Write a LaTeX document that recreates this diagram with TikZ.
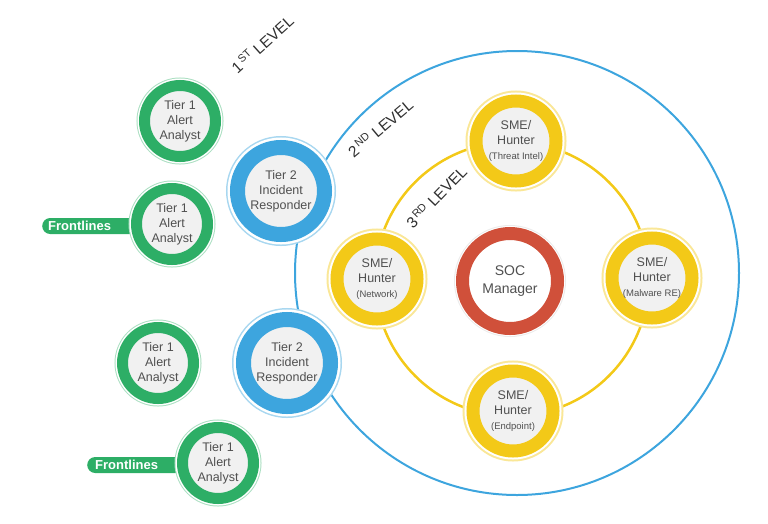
\documentclass[tikz,border=0pt]{standalone}
\usepackage{fontspec}
\setmainfont{Liberation Sans}
\definecolor{cgreen}{HTML}{2DAE66}
\definecolor{cblue}{HTML}{3DA5DE}
\definecolor{cyellow}{HTML}{F3C918}
\definecolor{cred}{HTML}{D0503A}
\definecolor{cfill}{HTML}{F1F1F1}
\definecolor{ctext}{HTML}{505050}
\definecolor{clabel}{HTML}{303030}
\tikzset{
  base/.style={circle, inner sep=0pt, align=center, text=ctext},
  tierone/.style={base, minimum size=71pt, line width=11pt, draw=cgreen, fill=cfill,
    preaction={draw=cgreen!40, line width=16pt}, preaction={draw=white, line width=14pt},
    font=\fontsize{12.5}{15}\selectfont},
  tiertwo/.style={base, minimum size=87pt, line width=15pt, draw=cblue, fill=cfill,
    preaction={draw=cblue!45, line width=23pt}, preaction={draw=white, line width=20pt},
    font=\fontsize{12.5}{15}\selectfont},
  sme/.style={base, minimum size=80pt, line width=13pt, draw=cyellow, fill=cfill,
    preaction={draw=cyellow!45, line width=21pt}, preaction={draw=white, line width=17pt},
    font=\fontsize{12.5}{15}\selectfont},
  mgr/.style={base, minimum size=95pt, line width=13pt, draw=cred, fill=white,
    preaction={draw=black!8, line width=17pt}, preaction={draw=white, line width=15pt},
    font=\fontsize{14}{18}\selectfont},
  tag/.style={anchor=west, fill=cgreen, text=white, rounded corners=8pt, minimum height=16pt,
    inner ysep=0pt, text width=118pt, align=left, font=\bfseries\fontsize{13}{14}\selectfont},
  lvl/.style={text=clabel, inner sep=0pt, font=\fontsize{15.5}{18}\selectfont}
}
\newcommand{\sm}[1]{{\fontsize{9.5}{11}\selectfont #1}}
\begin{document}
\begin{tikzpicture}[x=1pt,y=-1pt]
\useasboundingbox (0,0) rectangle (768,523);
% level rings
\coordinate (bluec) at (517,273);
\coordinate (orbc) at (512,279);
\draw[cblue, line width=2pt] (bluec) circle (222);
\draw[cyellow, line width=2.5pt] (orbc) circle (137);
% frontline tags
\node[tag, inner xsep=6pt] (f1) at (42,226) {Frontlines};
\node[tag, inner xsep=8pt] (f2) at (87,465) {Frontlines};
% tier 1
\node[tierone] (a1) at (180,121) {Tier 1\\Alert\\Analyst};
\node[tierone] (a2) at (172,224) {Tier 1\\Alert\\Analyst};
\node[tierone] (a3) at (158,363) {Tier 1\\Alert\\Analyst};
\node[tierone] (a4) at (218,463) {Tier 1\\Alert\\Analyst};
% tier 2
\node[tiertwo] (b1) at (281,191) {Tier 2\\Incident\\Responder};
\node[tiertwo] (b2) at (287,363) {Tier 2\\Incident\\Responder};
% SME
\node[sme] (s1) at (516,141) {SME/\\Hunter\\\sm{(Threat Intel)}};
\node[sme] (s2) at (377,279) {SME/\\Hunter\\\sm{(Network)}};
\node[sme] (s3) at (652,278) {SME/\\Hunter\\\sm{(Malware RE)}};
\node[sme] (s4) at (513,411) {SME/\\Hunter\\\sm{(Endpoint)}};
% manager
\node[mgr] (m) at (510,281) {SOC\\Manager};
% level labels
\node[lvl, rotate=42] (l1) at (262,44) {1\textsuperscript{\,ST} LEVEL};
\node[lvl, rotate=40] (l2) at (380,128) {2\textsuperscript{\,ND} LEVEL};
\node[lvl, rotate=46] (l3) at (436,197) {3\textsuperscript{\,RD} LEVEL};
\end{tikzpicture}
\end{document}
